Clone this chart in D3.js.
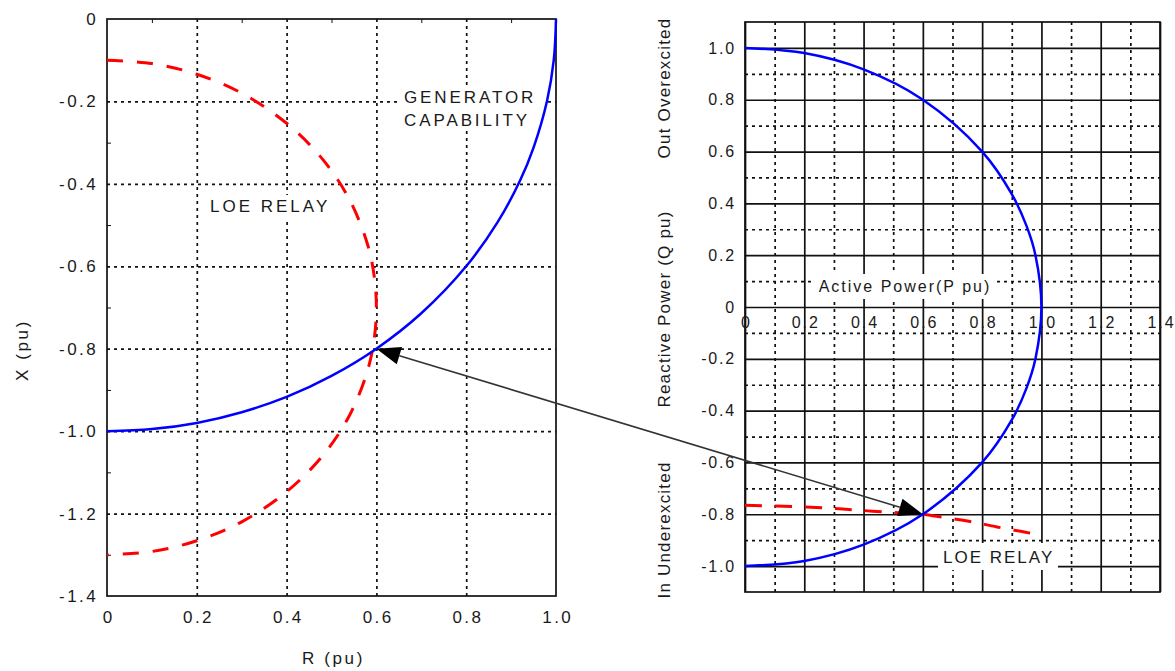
<!DOCTYPE html>
<html>
<head>
<meta charset="utf-8">
<script src="https://cdn.jsdelivr.net/npm/d3@7"></script>
<style>
  body { margin: 0; background: #fff; }
  svg text { font-family: "Liberation Sans", Arial, sans-serif; fill: #1a1a1a; }
</style>
</head>
<body>
<svg id="chart" width="1175" height="671"></svg>
<script>
// generator capability curve, R-X plane (pu)
var genCapR = [0, 0.1, 0.2, 0.3, 0.4, 0.5, 0.6, 0.7, 0.8, 0.87, 0.92, 0.95, 0.98, 0.995, 1.0];
var genCapX = [-1.0, -0.995, -0.98, -0.954, -0.917, -0.866, -0.8, -0.714, -0.6, -0.493, -0.392, -0.312, -0.199, -0.1, 0];

// loss of excitation relay, R-X plane (pu)
var loeR = [0, 0.1, 0.2, 0.3, 0.4, 0.48, 0.54, 0.58, 0.595, 0.6, 0.595, 0.58, 0.54, 0.48, 0.4, 0.3, 0.2, 0.1, 0];
var loeX = [-0.1, -0.108, -0.134, -0.18, -0.253, -0.34, -0.438, -0.546, -0.623, -0.7, -0.777, -0.854, -0.962, -1.06, -1.147, -1.22, -1.266, -1.292, -1.3];

// generator capability curve, P-Q plane (pu)
var capP = [0, 0.2, 0.4, 0.6, 0.8, 0.9, 0.95, 0.98, 1.0, 0.98, 0.95, 0.9, 0.8, 0.6, 0.4, 0.2, 0];
var capQ = [1.0, 0.98, 0.917, 0.8, 0.6, 0.436, 0.312, 0.199, 0, -0.199, -0.312, -0.436, -0.6, -0.8, -0.917, -0.98, -1.0];

// loss of excitation relay, P-Q plane (pu)
var loeP = [0, 0.13, 0.24, 0.33, 0.43, 0.54, 0.6, 0.64, 0.75, 0.85, 0.96, 0.99];
var loeQ = [-0.765, -0.769, -0.774, -0.78, -0.788, -0.796, -0.8, -0.807, -0.826, -0.849, -0.872, -0.88];

// ticks, left chart
var rTicks = [0, 0.2, 0.4, 0.6, 0.8, 1.0];
var rTickLabels = ["0", "0.2", "0.4", "0.6", "0.8", "1.0"];
var rMinor = [0.1, 0.3, 0.5, 0.7, 0.9];
var xTicks = [0, -0.2, -0.4, -0.6, -0.8, -1.0, -1.2, -1.4];
var xTickLabels = ["0", "-0.2", "-0.4", "-0.6", "-0.8", "-1.0", "-1.2", "-1.4"];
var xMinor = [-0.1, -0.3, -0.5, -0.7, -0.9, -1.1, -1.3];

// ticks, right chart
var pTicks = [0, 0.2, 0.4, 0.6, 0.8, 1.0, 1.2, 1.4];
var pTickLabels = ["0", "0.2", "0.4", "0.6", "0.8", "1.0", "1.2", "1.4"];
var pMinor = [0.1, 0.3, 0.5, 0.7, 0.9, 1.1, 1.3];
var qTicks = [1.0, 0.8, 0.6, 0.4, 0.2, 0, -0.2, -0.4, -0.6, -0.8, -1.0];
var qTickLabels = ["1.0", "0.8", "0.6", "0.4", "0.2", "0", "-0.2", "-0.4", "-0.6", "-0.8", "-1.0"];
var qMinor = [0.9, 0.7, 0.5, 0.3, 0.1, -0.1, -0.3, -0.5, -0.7, -0.9];

var svg = d3.select("#chart");

// ---------- left chart: R-X plane ----------
var L = {left: 107, right: 556, top: 19, bottom: 596};
var xL = d3.scaleLinear().domain([0, 1]).range([L.left, L.right]);
var yL = d3.scaleLinear().domain([-1.4, 0]).range([L.bottom, L.top]);

var left = svg.append("g");

// dotted grid
left.append("g")
    .attr("transform", "translate(0," + L.bottom + ")")
    .call(d3.axisBottom(xL).tickValues(rTicks.slice(1, -1)).tickSize(-(L.bottom - L.top)).tickFormat(""))
    .call(g => g.select(".domain").remove())
    .selectAll("line")
      .attr("stroke", "#111")
      .attr("stroke-width", 1.7)
      .attr("stroke-dasharray", "3,4");

left.append("g")
    .attr("transform", "translate(" + L.left + ",0)")
    .call(d3.axisLeft(yL).tickValues(xTicks.slice(1, -1)).tickSize(-(L.right - L.left)).tickFormat(""))
    .call(g => g.select(".domain").remove())
    .selectAll("line")
      .attr("stroke", "#111")
      .attr("stroke-width", 1.7)
      .attr("stroke-dasharray", "3,4");

// small inward ticks
left.append("g")
    .attr("transform", "translate(0," + L.top + ")")
    .call(d3.axisTop(xL).tickValues(rMinor).tickSize(-4).tickFormat(""))
    .call(g => g.select(".domain").remove())
    .selectAll("line").attr("stroke", "#111");
left.append("g")
    .attr("transform", "translate(" + L.left + ",0)")
    .call(d3.axisLeft(yL).tickValues(xMinor).tickSize(-4).tickFormat(""))
    .call(g => g.select(".domain").remove())
    .selectAll("line").attr("stroke", "#111");

// frame
left.append("rect")
    .attr("x", L.left).attr("y", L.top)
    .attr("width", L.right - L.left).attr("height", L.bottom - L.top)
    .attr("fill", "none").attr("stroke", "#111").attr("stroke-width", 1.7);

// tick labels
left.append("g")
    .attr("transform", "translate(0," + L.bottom + ")")
    .call(d3.axisBottom(xL).tickValues(rTicks).tickSize(0).tickPadding(15).tickFormat((d, i) => rTickLabels[i]))
    .call(g => g.select(".domain").remove())
    .selectAll("text")
      .attr("font-size", 17).attr("font-family", null)
      .attr("dx", "1.2px")
      .style("letter-spacing", "2.4px");

left.append("g")
    .attr("transform", "translate(" + L.left + ",0)")
    .call(d3.axisLeft(yL).tickValues(xTicks).tickSize(0).tickPadding(9).tickFormat((d, i) => xTickLabels[i]))
    .call(g => g.select(".domain").remove())
    .selectAll("text")
      .attr("font-size", 17).attr("font-family", null)
      .style("letter-spacing", "2.4px");

// axis titles
left.append("text")
    .attr("x", (L.left + L.right) / 2 + 2).attr("y", 664)
    .attr("text-anchor", "middle").attr("font-size", 17)
    .style("letter-spacing", "2.6px")
    .text("R (pu)");
left.append("text")
    .attr("transform", "translate(28,350) rotate(-90)")
    .attr("text-anchor", "middle").attr("font-size", 17)
    .style("letter-spacing", "2.6px")
    .text("X (pu)");

// annotations with white boxes
left.append("rect").attr("x", 400).attr("y", 87).attr("width", 144).attr("height", 43).attr("fill", "#fff");
left.append("text").attr("x", 404).attr("y", 103).attr("font-size", 17)
    .style("letter-spacing", "2.9px").text("GENERATOR");
left.append("text").attr("x", 404).attr("y", 126).attr("font-size", 17)
    .style("letter-spacing", "2.9px").text("CAPABILITY");
left.append("rect").attr("x", 205).attr("y", 195).attr("width", 130).attr("height", 23).attr("fill", "#fff");
left.append("text").attr("x", 210).attr("y", 212).attr("font-size", 17)
    .style("letter-spacing", "3px").text("LOE RELAY");

var lineL = d3.line().curve(d3.curveCatmullRom.alpha(0.5))
    .x(d => xL(d[0])).y(d => yL(d[1]));

left.append("path")
    .datum(d3.zip(loeR, loeX))
    .attr("d", lineL)
    .attr("fill", "none").attr("stroke", "#ff0000").attr("stroke-width", 3)
    .attr("stroke-dasharray", "16,14");

left.append("path")
    .datum(d3.zip(genCapR, genCapX))
    .attr("d", lineL)
    .attr("fill", "none").attr("stroke", "#0000ff").attr("stroke-width", 2.5);

// ---------- right chart: P-Q plane ----------
var R = {left: 745, right: 1160, top: 22, bottom: 592};
var xR = d3.scaleLinear().domain([0, 1.4]).range([R.left, R.right]);
var yR = d3.scaleLinear().domain([-1.1, 1.1]).range([R.bottom, R.top]);

var right = svg.append("g");

// dotted minor grid
right.append("g")
    .attr("transform", "translate(0," + R.bottom + ")")
    .call(d3.axisBottom(xR).tickValues(pMinor).tickSize(-(R.bottom - R.top)).tickFormat(""))
    .call(g => g.select(".domain").remove())
    .selectAll("line")
      .attr("stroke", "#111").attr("stroke-width", 1.7).attr("stroke-dasharray", "3,4");
right.append("g")
    .attr("transform", "translate(" + R.left + ",0)")
    .call(d3.axisLeft(yR).tickValues(qMinor).tickSize(-(R.right - R.left)).tickFormat(""))
    .call(g => g.select(".domain").remove())
    .selectAll("line")
      .attr("stroke", "#111").attr("stroke-width", 1.7).attr("stroke-dasharray", "3,4");

// solid major grid
right.append("g")
    .attr("transform", "translate(0," + R.bottom + ")")
    .call(d3.axisBottom(xR).tickValues(pTicks).tickSize(-(R.bottom - R.top)).tickFormat(""))
    .call(g => g.select(".domain").remove())
    .selectAll("line")
      .attr("stroke", "#111").attr("stroke-width", 1.7);
right.append("g")
    .attr("transform", "translate(" + R.left + ",0)")
    .call(d3.axisLeft(yR).tickValues(qTicks).tickSize(-(R.right - R.left)).tickFormat(""))
    .call(g => g.select(".domain").remove())
    .selectAll("line")
      .attr("stroke", "#111").attr("stroke-width", 1.7);

right.append("rect")
    .attr("x", R.left).attr("y", R.top)
    .attr("width", R.right - R.left).attr("height", R.bottom - R.top)
    .attr("fill", "none").attr("stroke", "#111").attr("stroke-width", 1.7);

// tick labels
right.append("g")
    .attr("transform", "translate(0," + yR(0) + ")")
    .call(d3.axisBottom(xR).tickValues(pTicks).tickSize(0).tickPadding(9.5).tickFormat((d, i) => pTickLabels[i]))
    .call(g => g.select(".domain").remove())
    .selectAll("text")
      .attr("font-size", 16).attr("font-family", null)
      .attr("dx", "1px")
      .style("letter-spacing", "2px");

right.append("g")
    .attr("transform", "translate(" + R.left + ",0)")
    .call(d3.axisLeft(yR).tickValues(qTicks).tickSize(0).tickPadding(9).tickFormat((d, i) => qTickLabels[i]))
    .call(g => g.select(".domain").remove())
    .selectAll("text")
      .attr("font-size", 16).attr("font-family", null)
      .style("letter-spacing", "1.8px");

// rotated axis titles
var rightTitles = [
  {text: "Out Overexcited", y: 88},
  {text: "Reactive Power (Q pu)", y: 309},
  {text: "In Underexcited", y: 530}
];
right.selectAll("text.ytitle")
  .data(rightTitles)
  .join("text")
    .attr("class", "ytitle")
    .attr("transform", d => "translate(670," + d.y + ") rotate(-90)")
    .attr("text-anchor", "middle").attr("font-size", 17)
    .style("letter-spacing", "1.2px")
    .text(d => d.text);

// labels with white boxes
right.append("rect").attr("x", 812).attr("y", 274).attr("width", 185).attr("height", 25).attr("fill", "#fff");
right.append("text").attr("x", 905).attr("y", 292).attr("text-anchor", "middle").attr("font-size", 16)
    .style("letter-spacing", "2px").text("Active Power(P pu)");
right.append("rect").attr("x", 938).attr("y", 543).attr("width", 120).attr("height", 27).attr("fill", "#fff");
right.append("text").attr("x", 943).attr("y", 563).attr("font-size", 17)
    .style("letter-spacing", "2px").text("LOE RELAY");

var lineR = d3.line().curve(d3.curveCatmullRom.alpha(0.5))
    .x(d => xR(d[0])).y(d => yR(d[1]));

right.append("path")
    .datum(d3.zip(loeP, loeQ))
    .attr("d", lineR)
    .attr("fill", "none").attr("stroke", "#ff0000").attr("stroke-width", 3)
    .attr("stroke-dasharray", "17,13");

right.append("path")
    .datum(d3.zip(capP, capQ))
    .attr("d", lineR)
    .attr("fill", "none").attr("stroke", "#0000ff").attr("stroke-width", 2.5);

// ---------- double arrow linking the two intersection points ----------
var tipA = [xL(genCapR[6]), yL(genCapX[6])];
var tipB = [xR(capP[13]), yR(capQ[13])];
var dx = tipB[0] - tipA[0], dy = tipB[1] - tipA[1];
var len = Math.sqrt(dx * dx + dy * dy);
var ux = dx / len, uy = dy / len;
var headLen = 24, headHalf = 9;

function head(tip, dir) {
  var bx = tip[0] + dir * ux * headLen, by = tip[1] + dir * uy * headLen;
  return "M" + tip[0] + "," + tip[1] +
         "L" + (bx - uy * headHalf) + "," + (by + ux * headHalf) +
         "L" + (bx + uy * headHalf) + "," + (by - ux * headHalf) + "Z";
}

svg.append("line")
    .attr("x1", tipA[0] + ux * headLen).attr("y1", tipA[1] + uy * headLen)
    .attr("x2", tipB[0] - ux * headLen).attr("y2", tipB[1] - uy * headLen)
    .attr("stroke", "#333").attr("stroke-width", 1.6);
svg.append("path").attr("d", head(tipA, 1)).attr("fill", "#000");
svg.append("path").attr("d", head(tipB, -1)).attr("fill", "#000");
</script>
</body>
</html>
